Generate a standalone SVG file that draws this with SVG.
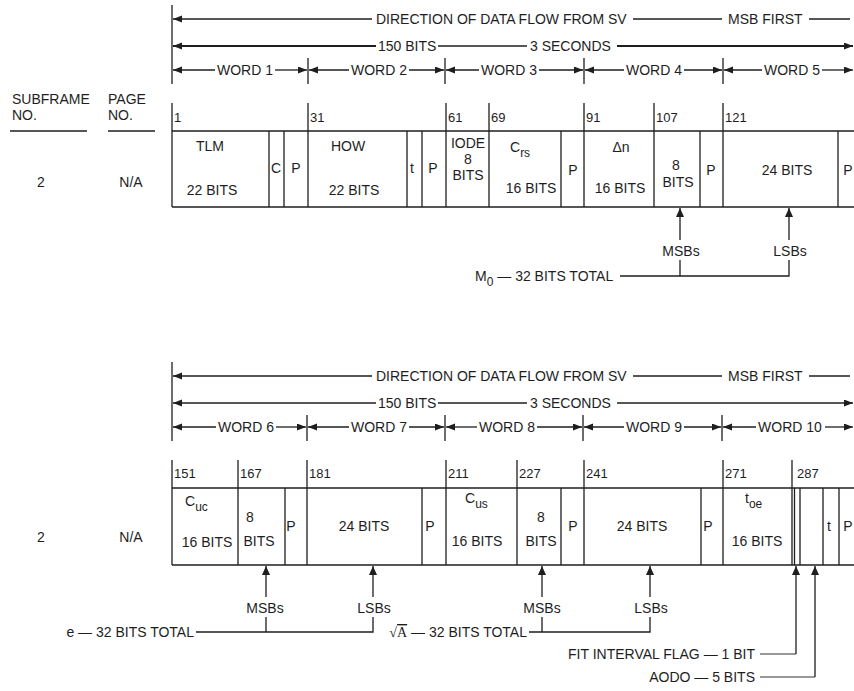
<svg xmlns="http://www.w3.org/2000/svg" width="854" height="691" viewBox="0 0 854 691">
<defs>
<style>
.t{font-family:"Liberation Sans",Arial,Helvetica,sans-serif;font-size:14px;fill:#1e1e1e}
.n{font-size:13px}
.sub{font-size:12px}
.m{text-anchor:middle}
.e{text-anchor:end}
.serif{font-family:"Liberation Serif","Times New Roman",serif}
.l{stroke:#1e1e1e;stroke-width:1.3;fill:none}
.a{stroke:#1e1e1e;stroke-width:1.3;fill:none;marker-end:url(#ah)}
.u{stroke:#1e1e1e;stroke-width:1.3;fill:none;marker-end:url(#up)}
.g{stroke:#333;stroke-width:1;fill:none}
</style>
<marker id="ah" markerUnits="userSpaceOnUse" markerWidth="10" markerHeight="8" refX="9" refY="3.5" orient="auto"><path d="M0,0 L9,3.5 L0,7 z" fill="#1e1e1e"/></marker>
<marker id="up" markerUnits="userSpaceOnUse" markerWidth="10" markerHeight="9" refX="9" refY="4" orient="auto"><path d="M0,0 L9,4 L0,8 z" fill="#1e1e1e"/></marker>
</defs>
<rect width="854" height="691" fill="#fff"/>

<!-- ===== TOP SECTION ===== -->
<g id="header-top">
<line class="l" x1="172" y1="5" x2="172" y2="84"/>
<text class="t" x="376" y="24">DIRECTION OF DATA FLOW FROM SV</text>
<text class="t" x="728" y="24">MSB FIRST</text>
<text class="t" x="378" y="51">150 BITS</text>
<text class="t" x="530" y="51">3 SECONDS</text>
<text class="t m" x="245" y="75">WORD 1</text>
<text class="t m" x="379" y="75">WORD 2</text>
<text class="t m" x="509" y="75">WORD 3</text>
<text class="t m" x="654" y="75">WORD 4</text>
<text class="t m" x="792" y="75">WORD 5</text>
<g class="l"><line x1="308" y1="58" x2="308" y2="84"/><line x1="445" y1="58" x2="445" y2="84"/><line x1="584" y1="58" x2="584" y2="84"/><line x1="723" y1="58" x2="723" y2="84"/></g>
</g>

<g id="labels-top">
<text class="t" x="12" y="104">SUBFRAME</text>
<text class="t" x="12" y="120">NO.</text>
<line class="l" x1="10" y1="131" x2="87" y2="131"/>
<text class="t" x="108" y="104">PAGE</text>
<text class="t" x="108" y="120">NO.</text>
<line class="l" x1="108" y1="131" x2="155" y2="131"/>
<text class="t m" x="41" y="187">2</text>
<text class="t m" x="131" y="187">N/A</text>
</g>

<g id="frame-top">
<line class="l" x1="172" y1="131" x2="854" y2="131"/>
<line class="l" x1="172" y1="207" x2="854" y2="207"/>
<g class="l">
<line x1="172" y1="103" x2="172" y2="207"/>
<line x1="269" y1="131" x2="269" y2="207"/>
<line x1="284" y1="131" x2="284" y2="207"/>
<line x1="308" y1="103" x2="308" y2="207"/>
<line x1="407" y1="131" x2="407" y2="207"/>
<line x1="422" y1="131" x2="422" y2="207"/>
<line x1="446" y1="103" x2="446" y2="207"/>
<line x1="489" y1="103" x2="489" y2="207"/>
<line x1="561" y1="131" x2="561" y2="207"/>
<line x1="584" y1="103" x2="584" y2="207"/>
<line x1="654" y1="103" x2="654" y2="207"/>
<line x1="700" y1="131" x2="700" y2="207"/>
<line x1="723" y1="103" x2="723" y2="207"/>
<line x1="838" y1="131" x2="838" y2="207"/>
</g>
<text class="t n" x="174" y="122">1</text>
<text class="t n" x="310" y="122">31</text>
<text class="t n" x="448" y="122">61</text>
<text class="t n" x="491" y="122">69</text>
<text class="t n" x="586" y="122">91</text>
<text class="t n" x="656" y="122">107</text>
<text class="t n" x="725" y="122">121</text>

<text class="t m" x="210" y="151">TLM</text>
<text class="t m" x="212" y="195">22 BITS</text>
<text class="t m" x="276" y="173">C</text>
<text class="t m" x="296" y="173">P</text>
<text class="t m" x="348" y="151">HOW</text>
<text class="t m" x="354" y="195">22 BITS</text>
<text class="t m" x="412" y="173">t</text>
<text class="t m" x="433" y="173">P</text>
<text class="t m" x="468" y="148">IODE</text>
<text class="t m" x="468" y="164">8</text>
<text class="t m" x="468" y="180">BITS</text>
<text class="t" x="510" y="152">C<tspan class="sub" dy="5">rs</tspan></text>
<text class="t m" x="531" y="193">16 BITS</text>
<text class="t m" x="573" y="175">P</text>
<text class="t m" x="621" y="152">Δn</text>
<text class="t m" x="620" y="193">16 BITS</text>
<text class="t m" x="676" y="170">8</text>
<text class="t m" x="678" y="187">BITS</text>
<text class="t m" x="711" y="175">P</text>
<text class="t m" x="787" y="175">24 BITS</text>
<text class="t m" x="848" y="175">P</text>
</g>

<g id="annot-top">
<text class="t m" x="681" y="256">MSBs</text>
<text class="t m" x="790" y="256">LSBs</text>
<text class="t" x="475" y="281">M<tspan class="sub" dy="5">0</tspan><tspan dy="-5"> — 32 BITS TOTAL</tspan></text>
</g>

<!-- ===== BOTTOM SECTION ===== -->
<g id="header-bottom">
<line class="l" x1="172" y1="362" x2="172" y2="441"/>
<text class="t" x="376" y="381">DIRECTION OF DATA FLOW FROM SV</text>
<text class="t" x="728" y="381">MSB FIRST</text>
<text class="t" x="378" y="408">150 BITS</text>
<text class="t" x="530" y="408">3 SECONDS</text>
<text class="t m" x="246" y="432">WORD 6</text>
<text class="t m" x="379" y="432">WORD 7</text>
<text class="t m" x="507" y="432">WORD 8</text>
<text class="t m" x="654" y="432">WORD 9</text>
<text class="t m" x="790" y="432">WORD 10</text>
<g class="l"><line x1="307" y1="415" x2="307" y2="441"/><line x1="445" y1="415" x2="445" y2="441"/><line x1="583" y1="415" x2="583" y2="441"/><line x1="722" y1="415" x2="722" y2="441"/></g>
</g>

<g id="labels-bottom">
<text class="t m" x="41" y="542">2</text>
<text class="t m" x="131" y="542">N/A</text>
</g>

<g id="frame-bottom">
<line class="l" x1="172" y1="488" x2="854" y2="488"/>
<line class="l" x1="172" y1="565" x2="854" y2="565"/>
<g class="l">
<line x1="172" y1="460" x2="172" y2="565"/>
<line x1="238" y1="460" x2="238" y2="565"/>
<line x1="285" y1="488" x2="285" y2="565"/>
<line x1="307" y1="460" x2="307" y2="565"/>
<line x1="422" y1="488" x2="422" y2="565"/>
<line x1="446" y1="460" x2="446" y2="565"/>
<line x1="517" y1="460" x2="517" y2="565"/>
<line x1="561" y1="488" x2="561" y2="565"/>
<line x1="584" y1="460" x2="584" y2="565"/>
<line x1="701" y1="488" x2="701" y2="565"/>
<line x1="723" y1="460" x2="723" y2="565"/>
<line x1="792" y1="460" x2="792" y2="565"/>
<line x1="794.5" y1="488" x2="794.5" y2="565"/>
<line x1="800" y1="488" x2="800" y2="565"/>
<line x1="823" y1="488" x2="823" y2="565"/>
<line x1="839" y1="488" x2="839" y2="565"/>
</g>
<text class="t n" x="174" y="478">151</text>
<text class="t n" x="240" y="478">167</text>
<text class="t n" x="309" y="478">181</text>
<text class="t n" x="448" y="478">211</text>
<text class="t n" x="519" y="478">227</text>
<text class="t n" x="586" y="478">241</text>
<text class="t n" x="725" y="478">271</text>
<text class="t n" x="797" y="478">287</text>

<text class="t" x="185" y="506">C<tspan class="sub" dy="5">uc</tspan></text>
<text class="t m" x="207" y="547">16 BITS</text>
<text class="t m" x="250" y="522">8</text>
<text class="t m" x="259" y="546">BITS</text>
<text class="t m" x="291" y="531">P</text>
<text class="t m" x="364" y="531">24 BITS</text>
<text class="t m" x="430" y="531">P</text>
<text class="t" x="465" y="503">C<tspan class="sub" dy="5">us</tspan></text>
<text class="t m" x="477" y="546">16 BITS</text>
<text class="t m" x="541" y="522">8</text>
<text class="t m" x="541" y="546">BITS</text>
<text class="t m" x="573" y="531">P</text>
<text class="t m" x="642" y="531">24 BITS</text>
<text class="t m" x="708" y="531">P</text>
<text class="t" x="745" y="503">t<tspan class="sub" dy="5">oe</tspan></text>
<text class="t m" x="757" y="546">16 BITS</text>
<text class="t m" x="829" y="531">t</text>
<text class="t m" x="848" y="531">P</text>
</g>

<g id="annot-bottom">
<text class="t m" x="265" y="613">MSBs</text>
<text class="t m" x="374" y="613">LSBs</text>
<text class="t e" x="194" y="637">e — 32 BITS TOTAL</text>
<text class="t m" x="542" y="613">MSBs</text>
<text class="t m" x="651" y="613">LSBs</text>
<text class="t e" x="527" y="637"><tspan class="serif">√</tspan><tspan class="serif" text-decoration="overline">A</tspan> — 32 BITS TOTAL</text>
<text class="t e" x="755" y="659">FIT INTERVAL FLAG — 1 BIT</text>
<text class="t e" x="755" y="682">AODO — 5 BITS</text>
</g>

<g id="connectors">
<!-- top header arrows -->
<line class="a" x1="372" y1="19" x2="173" y2="19"/>
<line class="l" x1="633" y1="19" x2="722" y2="19"/>
<line class="l" x1="809" y1="19" x2="850" y2="19"/>
<line class="a" x1="376" y1="46" x2="173" y2="46" style="stroke-width:2"/>
<line class="l" x1="438" y1="46" x2="527" y2="46"/>
<line class="a" x1="617" y1="46" x2="853" y2="46" style="stroke-width:2"/>
<line class="a" x1="215" y1="70" x2="173" y2="70"/><line class="a" x1="275" y1="70" x2="307" y2="70"/>
<line class="a" x1="349" y1="70" x2="309" y2="70"/><line class="a" x1="409" y1="70" x2="444" y2="70"/>
<line class="a" x1="479" y1="70" x2="446" y2="70"/><line class="a" x1="539" y1="70" x2="583" y2="70"/>
<line class="a" x1="624" y1="70" x2="585" y2="70"/><line class="a" x1="684" y1="70" x2="722" y2="70"/>
<line class="a" x1="762" y1="70" x2="724" y2="70"/><line class="a" x1="822" y1="70" x2="853" y2="70"/>
<!-- top annotations -->
<line class="u" x1="680" y1="240" x2="680" y2="208"/>
<line class="u" x1="789" y1="240" x2="789" y2="208"/>
<polyline class="l" points="680,260 680,276"/>
<polyline class="l" points="620,276 789,276 789,260"/>
<!-- bottom header arrows -->
<line class="a" x1="372" y1="376" x2="173" y2="376"/>
<line class="l" x1="633" y1="376" x2="722" y2="376"/>
<line class="l" x1="809" y1="376" x2="850" y2="376"/>
<line class="a" x1="376" y1="403" x2="173" y2="403"/>
<line class="l" x1="438" y1="403" x2="527" y2="403"/>
<line class="a" x1="617" y1="403" x2="853" y2="403"/>
<line class="a" x1="216" y1="427" x2="173" y2="427"/><line class="a" x1="276" y1="427" x2="306" y2="427"/>
<line class="a" x1="349" y1="427" x2="308" y2="427"/><line class="a" x1="409" y1="427" x2="444" y2="427"/>
<line class="a" x1="477" y1="427" x2="446" y2="427"/><line class="a" x1="537" y1="427" x2="582" y2="427"/>
<line class="a" x1="624" y1="427" x2="584" y2="427"/><line class="a" x1="684" y1="427" x2="721" y2="427"/>
<line class="a" x1="756" y1="427" x2="723" y2="427"/><line class="a" x1="825" y1="427" x2="853" y2="427"/>
<!-- bottom annotations -->
<line class="u" x1="266" y1="597" x2="266" y2="566"/>
<line class="u" x1="373" y1="597" x2="373" y2="566"/>
<polyline class="l" points="266,617 266,632"/>
<polyline class="l" points="196,632 373,632 373,617"/>
<line class="u" x1="542" y1="597" x2="542" y2="566"/>
<line class="u" x1="650" y1="597" x2="650" y2="566"/>
<polyline class="l" points="542,617 542,632"/>
<polyline class="l" points="529,632 650,632 650,617"/>
<polyline class="g" points="760,654 796,654"/>
<line class="u" x1="796" y1="654" x2="796" y2="566"/>
<polyline class="g" points="760,677 815,677"/>
<line class="u" x1="815" y1="677" x2="815" y2="566"/>
</g>
</svg>
